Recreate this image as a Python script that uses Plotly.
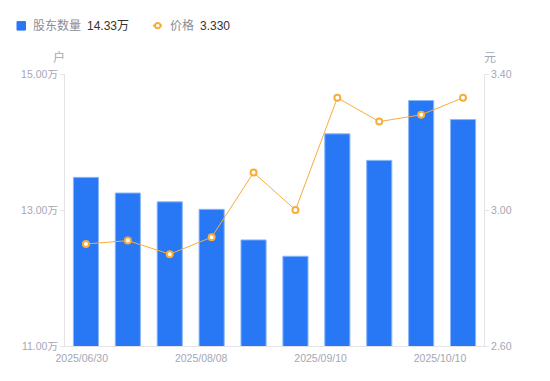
import plotly.graph_objects as go

# ---- data ----
dates = ["2025/06/30", "2025/07/10", "2025/07/20", "2025/08/08", "2025/08/20",
         "2025/08/31", "2025/09/10", "2025/09/19", "2025/09/30", "2025/10/10"]
holders_wan = [13.48, 13.25, 13.12, 13.01, 12.56, 12.32, 14.12, 13.73, 14.61, 14.33]
price = [2.90, 2.91, 2.87, 2.92, 3.11, 3.00, 3.33, 3.26, 3.28, 3.33]
label_idx = [0, 3, 6, 9]
left_ticks = [11, 13, 15]
right_ticks = [2.60, 3.00, 3.40]

# ---- layout geometry (pixels) ----
W, H = 550, 381
L, R, T, B = 65, 484, 73.5, 346
def px(x):
    return (x - L) / (R - L)
def py(y):
    return (B - y) / (B - T)

FONT = "Liberation Sans, Arial, Noto Sans CJK SC, sans-serif"
GRAY = "#a4a7b5"
AXIS = "#e3e4e8"
BLUE = "#2878f5"
ORANGE = "#f7ad3a"

xi = list(range(len(dates)))

fig = go.Figure()
fig.add_trace(go.Bar(
    x=xi, y=holders_wan, name="股东数量",
    marker=dict(color=BLUE, line=dict(color="#8cb8fa", width=1)),
    width=0.6, yaxis="y", showlegend=False,
))
fig.add_trace(go.Scatter(
    x=xi, y=price, name="价格", mode="lines+markers", yaxis="y2",
    line=dict(color=ORANGE, width=1),
    marker=dict(symbol="circle", size=6, color="white", line=dict(color=ORANGE, width=2)),
    showlegend=False,
))

axfont = dict(family=FONT, size=10.5, color=GRAY)
fig.update_layout(
    width=W, height=H,
    margin=dict(l=L, r=W - R, t=T, b=H - B),
    paper_bgcolor="white", plot_bgcolor="white",
    font=dict(family=FONT, size=11, color=GRAY),
    bargap=0.4,
    xaxis=dict(
        range=[-0.5, len(dates) - 0.5],
        tickvals=[i * 0.95 - 0.1 for i in label_idx],
        ticktext=[dates[i] for i in label_idx],
        showgrid=False, zeroline=False,
        showline=True, linecolor=AXIS, linewidth=1,
        ticks="", tickfont=axfont, ticklabelstandoff=2,
    ),
    yaxis=dict(
        range=[11, 15], tickvals=left_ticks,
        ticktext=[f"{v:.2f}万" for v in left_ticks],
        showgrid=False, zeroline=False,
        showline=True, linecolor=AXIS, linewidth=1,
        ticks="outside", ticklen=4, tickcolor=AXIS,
        tickfont=axfont,
    ),
    yaxis2=dict(
        range=[2.6, 3.4], tickvals=right_ticks,
        ticktext=[f"{v:.2f}" for v in right_ticks],
        overlaying="y", side="right",
        showgrid=False, zeroline=False,
        showline=True, linecolor=AXIS, linewidth=1,
        ticks="outside", ticklen=4, tickcolor=AXIS,
        tickfont=axfont,
    ),
)

# axis unit labels
fig.add_annotation(text="户", x=px(59), y=py(57), xref="paper", yref="paper",
                   xanchor="center", yanchor="middle",
                   showarrow=False, font=dict(size=12, color=GRAY))
fig.add_annotation(text="元", x=px(490), y=py(57), xref="paper", yref="paper",
                   xanchor="center", yanchor="middle",
                   showarrow=False, font=dict(size=12, color=GRAY))

# custom legend
LEG_Y = 25
fig.add_shape(type="rect", xref="paper", yref="paper",
              x0=px(17), x1=px(25.5), y0=py(29.5), y1=py(21),
              fillcolor=BLUE, line=dict(color=BLUE, width=1, ))
legend_texts = [
    ("股东数量", 31, "#8a8d99"),
    (f"{holders_wan[-1]:.2f}万", 84.5, "#333333"),
    ("价格", 167.5, "#8a8d99"),
    (f"{price[-1]:.3f}", 198, "#333333"),
]
for txt, xpix, col in legend_texts:
    fig.add_annotation(text=txt, x=px(xpix), y=py(LEG_Y), xref="paper", yref="paper",
                       xanchor="left", yanchor="middle", showarrow=False,
                       font=dict(size=12, color=col))
fig.add_shape(type="line", xref="paper", yref="paper",
              x0=px(153), x1=px(162), y0=py(LEG_Y), y1=py(LEG_Y),
              line=dict(color=ORANGE, width=2))
fig.add_shape(type="circle", xref="paper", yref="paper",
              x0=px(155), x1=px(160.5), y0=py(27.7), y1=py(22.3),
              fillcolor="white", line=dict(color=ORANGE, width=2))

fig.write_html("out.html", config={"displayModeBar": False},
               post_script="document.body.style.margin='0';document.body.style.padding='0';")
